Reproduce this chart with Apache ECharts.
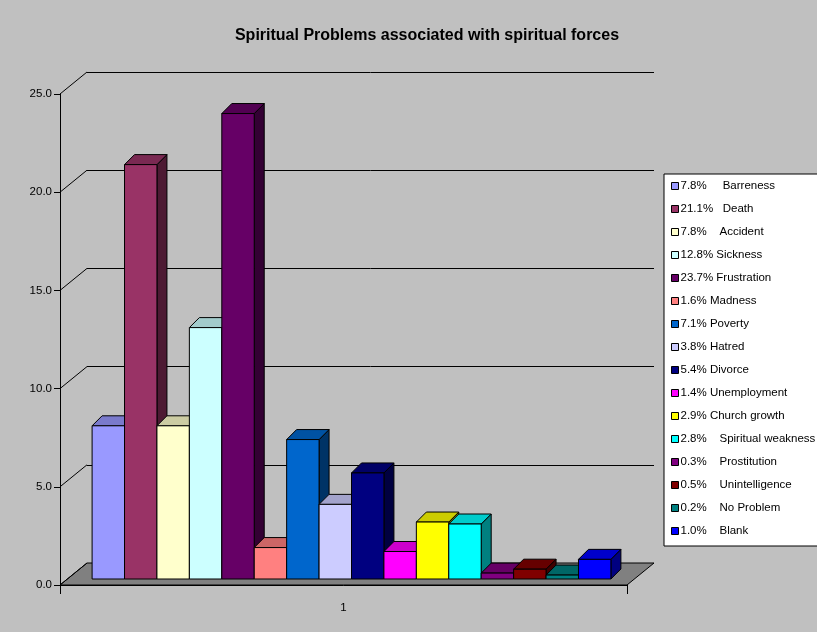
<!DOCTYPE html>
<html>
<head>
<meta charset="utf-8">
<title>Spiritual Problems associated with spiritual forces</title>
<script src="https://cdn.jsdelivr.net/npm/echarts@6/dist/echarts.min.js"></script>
<style>
  html, body { margin: 0; padding: 0; background: #c0c0c0; }
  #chart { width: 817px; height: 632px; }
</style>
</head>
<body>
<div id="chart"></div>
<script>
// ---- data ----
const categories = ['1'];
const problems = ['Barreness', 'Death', 'Accident', 'Sickness', 'Frustration', 'Madness', 'Poverty',
  'Hatred', 'Divorce', 'Unemployment', 'Church growth', 'Spiritual weakness', 'Prostitution',
  'Unintelligence', 'No Problem', 'Blank'];
const percents = [7.8, 21.1, 7.8, 12.8, 23.7, 1.6, 7.1, 3.8, 5.4, 1.4, 2.9, 2.8, 0.3, 0.5, 0.2, 1.0];
// spacing between the percentage and the label, as typed in the legend entries
const labelGaps = ['     ', '   ', '    ', ' ', ' ', ' ', ' ', ' ', ' ', ' ', ' ',
  '    ', '    ', '    ', '    ', '    '];
const yTicks = [0, 5, 10, 15, 20, 25];

// ---- look ----
const colors = ['#9999ff', '#993366', '#ffffcc', '#ccffff', '#660066', '#ff8080', '#0066cc', '#ccccff',
  '#000080', '#ff00ff', '#ffff00', '#00ffff', '#800080', '#800000', '#008080', '#0000ff'];
const FONT = 'Liberation Sans, Arial, sans-serif';
const WALL_DX = 27, WALL_DY = -22;      // depth of the 3D box (front wall -> back wall)
const BAR_DX = 8, BAR_DY = -6;          // where the bar row sits inside that depth
const BAR_DEPTH = 10;                   // depth of each bar prism
const BAR_SPAN = 0.915;                 // share of the category band filled by the bars

function shade(hex, k) {
  const n = parseInt(hex.slice(1), 16);
  const r = Math.round(((n >> 16) & 255) * k);
  const g = Math.round(((n >> 8) & 255) * k);
  const b = Math.round((n & 255) * k);
  return 'rgb(' + r + ',' + g + ',' + b + ')';
}

const legendNames = problems.map((p, i) => percents[i].toFixed(1) + '%' + labelGaps[i] + p);

function prism(idx) {
  return function (params, api) {
    const band = api.size([1, 0])[0];
    const base = api.coord([api.value(0), 0]);
    const top = api.coord([api.value(0), api.value(1)]);
    const w = band * BAR_SPAN / problems.length;
    const x0 = base[0] + BAR_DX - band * BAR_SPAN / 2 + idx * w;
    const x1 = x0 + w;
    const y0 = base[1] + BAR_DY;
    const y1 = top[1] + BAR_DY;
    const d = BAR_DEPTH;
    const c = colors[idx];
    const edge = { stroke: '#000', lineWidth: 1, lineJoin: 'miter' };
    return {
      type: 'group',
      children: [
        { type: 'polygon', shape: { points: [[x1, y0], [x1 + d, y0 - d], [x1 + d, y1 - d], [x1, y1]] },
          style: Object.assign({ fill: shade(c, 0.5) }, edge) },
        { type: 'polygon', shape: { points: [[x0, y1], [x1, y1], [x1 + d, y1 - d], [x0 + d, y1 - d]] },
          style: Object.assign({ fill: shade(c, 0.8) }, edge) },
        { type: 'polygon', shape: { points: [[x0, y0], [x1, y0], [x1, y1], [x0, y1]] },
          style: Object.assign({ fill: c }, edge) }
      ]
    };
  };
}

// floor and the slanted links between the front axis and the back wall
const frameSeries = {
  type: 'custom',
  name: 'frame',
  xAxisIndex: 0,
  yAxisIndex: 0,
  silent: true,
  z: 1,
  data: yTicks.map(v => [0, v]),
  renderItem: function (params, api) {
    const cs = params.coordSys;
    const y = api.coord([0, api.value(1)])[1];
    const xl = cs.x, xr = cs.x + cs.width;
    const children = [];
    if (api.value(1) === 0) {
      children.push({
        type: 'polygon',
        shape: { points: [[xl, y], [xr, y], [xr + WALL_DX, y + WALL_DY], [xl + WALL_DX, y + WALL_DY]] },
        style: { fill: '#808080', stroke: '#000', lineWidth: 1 }
      });
    }
    children.push({
      type: 'line',
      shape: { x1: xl, y1: y, x2: xl + WALL_DX, y2: y + WALL_DY },
      style: { stroke: '#000', lineWidth: 1 }
    });
    return { type: 'group', children: children };
  }
};

const barSeries = problems.map((p, i) => ({
  type: 'custom',
  name: legendNames[i],
  xAxisIndex: 0,
  yAxisIndex: 0,
  z: 3,
  itemStyle: { color: colors[i] },
  data: [[0, percents[i]]],
  renderItem: prism(i)
}));

const frontGrid = { left: 60, right: 190, top: 94, bottom: 47 };
const backGrid = {
  left: frontGrid.left + WALL_DX,
  right: frontGrid.right - WALL_DX,
  top: frontGrid.top + WALL_DY,
  bottom: frontGrid.bottom - WALL_DY
};

const chart = echarts.init(document.getElementById('chart'), null, { renderer: 'canvas' });
chart.setOption({
  backgroundColor: '#c0c0c0',
  animation: false,
  textStyle: { fontFamily: FONT },
  title: {
    text: 'Spiritual Problems associated with spiritual forces',
    left: 427,
    top: 28,
    textAlign: 'center',
    padding: 0,
    textStyle: { fontFamily: FONT, fontSize: 16, fontWeight: 'bold', color: '#000' }
  },
  legend: {
    orient: 'vertical',
    left: 664,
    top: 174,
    padding: [5, 8, 8, 7],
    itemGap: 9,
    itemWidth: 7,
    itemHeight: 7,
    icon: 'rect',
    backgroundColor: '#ffffff',
    borderColor: '#000',
    borderWidth: 1,
    borderRadius: 0,
    selectedMode: false,
    itemStyle: { borderColor: '#000', borderWidth: 1 },
    textStyle: { fontFamily: FONT, fontSize: 11.5, color: '#000', lineHeight: 14, padding: [0, 0, 0, -3] },
    data: legendNames
  },
  grid: [
    Object.assign({ containLabel: false }, frontGrid),
    Object.assign({ containLabel: false }, backGrid)
  ],
  xAxis: [
    {
      gridIndex: 0,
      type: 'category',
      data: categories,
      axisLine: { lineStyle: { color: '#000', width: 1 } },
      axisTick: { show: true, length: 9, lineStyle: { color: '#000' } },
      axisLabel: { margin: 17, fontFamily: FONT, fontSize: 11.5, color: '#000' },
      splitLine: { show: false }
    },
    {
      gridIndex: 1,
      type: 'category',
      data: categories,
      axisLine: { show: false },
      axisTick: { show: false },
      axisLabel: { show: false },
      splitLine: { show: false }
    }
  ],
  yAxis: [
    {
      gridIndex: 0,
      type: 'value',
      min: 0,
      max: 25,
      interval: 5,
      axisLine: { show: true, lineStyle: { color: '#000', width: 1 } },
      axisTick: { show: true, length: 6, lineStyle: { color: '#000' } },
      axisLabel: {
        margin: 8,
        fontFamily: FONT,
        fontSize: 11.5,
        color: '#000',
        formatter: v => v.toFixed(1)
      },
      splitLine: { show: false }
    },
    {
      gridIndex: 1,
      type: 'value',
      min: 0,
      max: 25,
      interval: 5,
      axisLine: { show: false },
      axisTick: { show: false },
      axisLabel: { show: false },
      splitLine: { show: true, lineStyle: { color: '#000', width: 1 } }
    }
  ],
  series: [frameSeries].concat(barSeries)
});
</script>
</body>
</html>
